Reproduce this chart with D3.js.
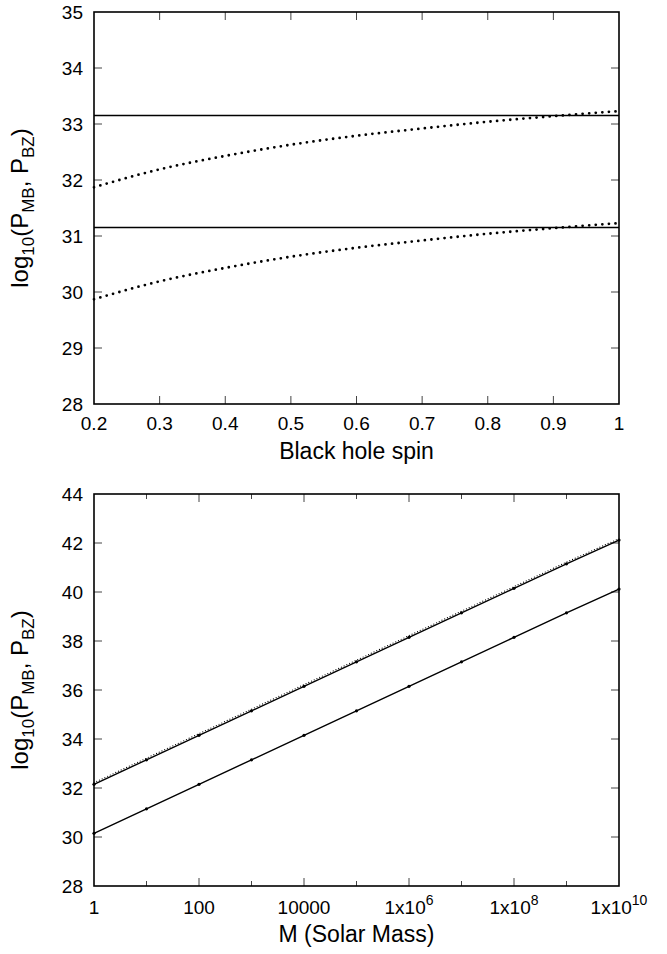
<!DOCTYPE html>
<html>
<head>
<meta charset="utf-8">
<script src="https://cdn.jsdelivr.net/npm/d3@7"></script>
<style>
  html, body { margin: 0; padding: 0; background: #fff; }
  svg { display: block; }
  text { font-family: "Liberation Sans", Arial, Helvetica, sans-serif; fill: #000; }
</style>
</head>
<body>
<svg id="chart" width="667" height="954"></svg>
<script>
// ---------- Data (top panel: vs black hole spin) ----------
const spin = [0.2, 0.3, 0.4, 0.5, 0.6, 0.7, 0.8, 0.9, 1.0];
const mbSpinHigh = [33.15, 33.15, 33.15, 33.15, 33.15, 33.15, 33.15, 33.15, 33.15];
const mbSpinLow  = [31.15, 31.15, 31.15, 31.15, 31.15, 31.15, 31.15, 31.15, 31.15];
const bzSpinHigh = [31.87, 32.19, 32.43, 32.63, 32.79, 32.92, 33.04, 33.14, 33.23];
const bzSpinLow  = [29.87, 30.19, 30.43, 30.63, 30.79, 30.92, 31.04, 31.14, 31.23];
const spinTicks = [0.2, 0.3, 0.4, 0.5, 0.6, 0.7, 0.8, 0.9, 1];
const spinYTicks = [28, 29, 30, 31, 32, 33, 34, 35];

// ---------- Data (bottom panel: vs mass) ----------
const mass = [1, 1e1, 1e2, 1e3, 1e4, 1e5, 1e6, 1e7, 1e8, 1e9, 1e10];
const mbMassHigh = [32.15, 33.15, 34.15, 35.15, 36.15, 37.15, 38.15, 39.15, 40.15, 41.15, 42.12];
const bzMassHigh = [32.22, 33.22, 34.22, 35.22, 36.22, 37.22, 38.22, 39.22, 40.22, 41.22, 42.18];
const mbMassLow  = [30.15, 31.15, 32.15, 33.15, 34.15, 35.15, 36.15, 37.15, 38.15, 39.15, 40.12];
const massMajorTicks = [1, 1e2, 1e4, 1e6, 1e8, 1e10];
const massMinorTicks = [1e1, 1e3, 1e5, 1e7, 1e9];
const massTickLabels = [["1", null], ["100", null], ["10000", null], ["1x10", "6"], ["1x10", "8"], ["1x10", "10"]];
const massYTicks = [28, 30, 32, 34, 36, 38, 40, 42, 44];

const svg = d3.select("#chart");
const L = 94, R = 619;
const TICK_FS = "19px", TITLE_FS = "23px";

function yLabel(g, cx, cy) {
  const t = g.append("text")
    .attr("transform", `translate(${cx},${cy}) rotate(-90)`)
    .attr("text-anchor", "middle")
    .style("font-size", "24px");
  t.append("tspan").text("log");
  t.append("tspan").attr("dy", 6).style("font-size", "17px").text("10");
  t.append("tspan").attr("dy", -6).text("(P");
  t.append("tspan").attr("dy", 6).style("font-size", "17px").text("MB");
  t.append("tspan").attr("dy", -6).text(", P");
  t.append("tspan").attr("dy", 6).style("font-size", "17px").text("BZ");
  t.append("tspan").attr("dy", -6).text(")");
}

function frame(g, top, bottom) {
  g.append("rect")
    .attr("x", L).attr("y", top)
    .attr("width", R - L).attr("height", bottom - top)
    .attr("fill", "none").attr("stroke", "#000").attr("stroke-width", 1.6);
}

// ---------- Top panel ----------
{
  const top = 12, bottom = 404;
  const g = svg.append("g");
  const x = d3.scaleLinear().domain([0.2, 1]).range([L, R]);
  const y = d3.scaleLinear().domain([28, 35]).range([bottom, top]);

  const tl = 8;
  spinTicks.forEach(v => {
    if (v === 0.2 || v === 1) return;
    g.append("line").attr("x1", x(v)).attr("x2", x(v)).attr("y1", bottom).attr("y2", bottom - tl).attr("stroke", "#444");
    g.append("line").attr("x1", x(v)).attr("x2", x(v)).attr("y1", top).attr("y2", top + tl).attr("stroke", "#444");
  });
  spinYTicks.forEach(v => {
    if (v === 28 || v === 35) return;
    g.append("line").attr("x1", L).attr("x2", L + tl).attr("y1", y(v)).attr("y2", y(v)).attr("stroke", "#444");
    g.append("line").attr("x1", R).attr("x2", R - tl).attr("y1", y(v)).attr("y2", y(v)).attr("stroke", "#444");
  });

  g.selectAll(".xl").data(spinTicks).enter().append("text")
    .attr("x", d => x(d)).attr("y", bottom + 26)
    .attr("text-anchor", "middle").style("font-size", TICK_FS)
    .text(d => d === 1 ? "1" : d3.format(".1f")(d));
  g.selectAll(".yl").data(spinYTicks).enter().append("text")
    .attr("x", 83).attr("y", d => y(d) + 7)
    .attr("text-anchor", "end").style("font-size", TICK_FS)
    .text(d => d);

  const solid = d3.line().x((d, i) => x(spin[i])).y(d => y(d));
  const smooth = d3.line().x((d, i) => x(spin[i])).y(d => y(d)).curve(d3.curveMonotoneX);
  [mbSpinHigh, mbSpinLow].forEach(s => {
    g.append("path").attr("d", solid(s)).attr("fill", "none").attr("stroke", "#000").attr("stroke-width", 1.5);
  });
  [bzSpinHigh, bzSpinLow].forEach(s => {
    g.append("path").attr("d", smooth(s)).attr("fill", "none").attr("stroke", "#000")
      .attr("stroke-width", 2.8).attr("stroke-linecap", "round").attr("stroke-dasharray", "0,6.6");
  });

  frame(g, top, bottom);

  g.append("text").attr("x", (L + R) / 2).attr("y", 459)
    .attr("text-anchor", "middle").style("font-size", TITLE_FS).text("Black hole spin");
  yLabel(g, 28, (top + bottom) / 2);
}

// ---------- Bottom panel ----------
{
  const top = 494, bottom = 886;
  const g = svg.append("g");
  const x = d3.scaleLog().domain([1, 1e10]).range([L, R]);
  const y = d3.scaleLinear().domain([28, 44]).range([bottom, top]);

  const tl = 8, tm = 5;
  massMajorTicks.forEach(v => {
    if (v === 1 || v === 1e10) return;
    g.append("line").attr("x1", x(v)).attr("x2", x(v)).attr("y1", bottom).attr("y2", bottom - tl).attr("stroke", "#444");
    g.append("line").attr("x1", x(v)).attr("x2", x(v)).attr("y1", top).attr("y2", top + tl).attr("stroke", "#444");
  });
  massMinorTicks.forEach(v => {
    g.append("line").attr("x1", x(v)).attr("x2", x(v)).attr("y1", bottom).attr("y2", bottom - tm).attr("stroke", "#444");
    g.append("line").attr("x1", x(v)).attr("x2", x(v)).attr("y1", top).attr("y2", top + tm).attr("stroke", "#444");
  });
  massYTicks.forEach(v => {
    if (v === 28 || v === 44) return;
    g.append("line").attr("x1", L).attr("x2", L + tl).attr("y1", y(v)).attr("y2", y(v)).attr("stroke", "#444");
    g.append("line").attr("x1", R).attr("x2", R - tl).attr("y1", y(v)).attr("y2", y(v)).attr("stroke", "#444");
  });

  massMajorTicks.forEach((v, i) => {
    const t = g.append("text").attr("x", x(v)).attr("y", bottom + 28)
      .attr("text-anchor", "middle").style("font-size", TICK_FS);
    t.append("tspan").text(massTickLabels[i][0]);
    if (massTickLabels[i][1]) {
      t.append("tspan").attr("dy", -9).style("font-size", "14px").text(massTickLabels[i][1]);
    }
  });
  g.selectAll(".yl").data(massYTicks).enter().append("text")
    .attr("x", 83).attr("y", d => y(d) + 7)
    .attr("text-anchor", "end").style("font-size", TICK_FS)
    .text(d => d);

  const line = d3.line().x((d, i) => x(mass[i])).y(d => y(d));
  [mbMassHigh, mbMassLow].forEach(s => {
    g.append("path").attr("d", line(s)).attr("fill", "none").attr("stroke", "#000").attr("stroke-width", 1.4);
    g.selectAll(null).data(s).enter().append("circle")
      .attr("cx", (d, i) => x(mass[i])).attr("cy", d => y(d)).attr("r", 1.6).attr("fill", "#000");
  });
  g.append("path").attr("d", line(bzMassHigh)).attr("fill", "none").attr("stroke", "#000")
    .attr("stroke-width", 1.2).attr("stroke-linecap", "round").attr("stroke-dasharray", "0,3");

  frame(g, top, bottom);

  g.append("text").attr("x", (L + R) / 2).attr("y", 942)
    .attr("text-anchor", "middle").style("font-size", TITLE_FS).text("M (Solar Mass)");
  yLabel(g, 28, (top + bottom) / 2);
}
</script>
</body>
</html>
